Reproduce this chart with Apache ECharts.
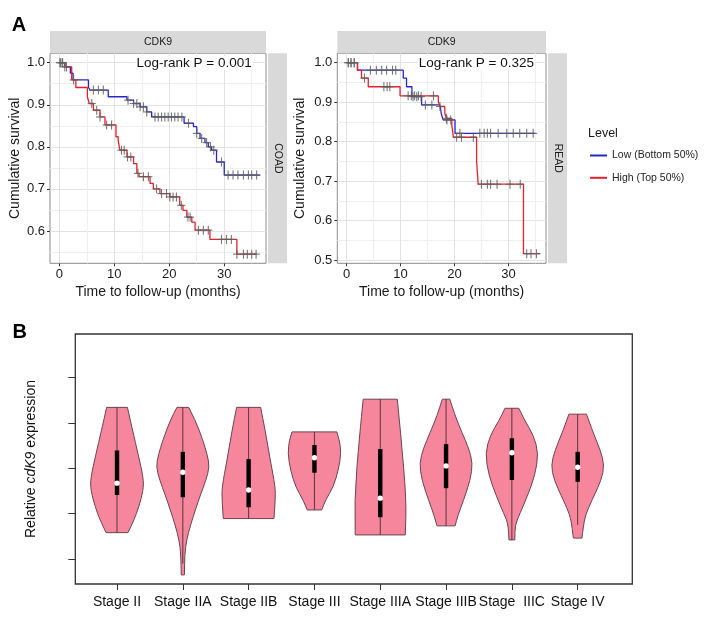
<!DOCTYPE html>
<html>
<head>
<meta charset="utf-8">
<script src="https://cdn.jsdelivr.net/npm/echarts@6/dist/echarts.min.js"></script>
<style>
html, body { margin: 0; padding: 0; background: #fff; }
#main { width: 708px; height: 619px; }
</style>
</head>
<body>
<div id="main"></div>
<script>
'use strict';

// ---- panel A: Kaplan-Meier steps, [months, survival after the step] ----
var coadLow = [[0, 1], [1.0, 0.99], [2.0, 0.975], [2.5, 0.959], [5.3, 0.941], [5.6, 0.935], [8.9, 0.919],
    [12.3, 0.911], [13.5, 0.903], [14.7, 0.895], [15.9, 0.883], [16.8, 0.871], [22.7, 0.856], [24.4, 0.848],
    [25.0, 0.832], [25.6, 0.82], [26.5, 0.81], [27.1, 0.80], [27.7, 0.792], [28.6, 0.764], [30.0, 0.733]];
var coadLowEnd = 36.5;
var coadHigh = [[0, 1], [1.0, 0.99], [2.25, 0.959], [3.0, 0.941], [5.1, 0.919], [5.45, 0.903], [6.2, 0.887],
    [7.4, 0.871], [8.3, 0.852], [10.3, 0.824], [10.7, 0.816], [11.0, 0.792], [12.3, 0.776], [13.5, 0.76],
    [14.1, 0.737], [14.5, 0.729], [16.5, 0.713], [17.1, 0.70], [18.3, 0.689], [20.1, 0.681], [21.9, 0.661],
    [22.5, 0.649], [23.2, 0.633], [24.1, 0.621], [24.7, 0.602], [27.4, 0.58], [32.3, 0.545]];
var coadHighEnd = 35.9;
var readLow = [[0, 1], [2.0, 0.981], [10.5, 0.961], [11.1, 0.939], [12.1, 0.914], [13.9, 0.893],
    [17.3, 0.889], [17.6, 0.868], [17.9, 0.855], [20.1, 0.821]];
var readLowEnd = 35.0;
var readHigh = [[0, 1], [2.0, 0.981], [2.75, 0.961], [4.0, 0.939], [9.9, 0.916], [17.0, 0.901], [17.3, 0.889],
    [18.2, 0.872], [18.5, 0.859], [19.5, 0.842], [19.8, 0.811], [24.1, 0.751], [24.4, 0.692], [32.8, 0.516]];
var readHighEnd = 35.9;

// censoring times (months)
var coadLowCens = [0.1, 0.5, 1.0, 6.2, 7.1, 8.0, 12.5, 13.5, 14.1, 14.7, 15.3, 15.9, 17.4, 18.0, 18.6, 19.2,
    19.8, 20.4, 21.0, 21.6, 22.3, 23.5, 25.0, 25.9, 26.8, 27.5, 28.1, 29.5, 30.7, 31.6, 32.5, 33.5, 34.4, 35.0, 35.9];
var coadHighCens = [0.2, 0.6, 1.3, 2.6, 5.9, 6.8, 7.4, 8.6, 9.5, 11.3, 11.8, 12.4, 13.0, 14.3, 15.3, 16.2,
    17.7, 18.6, 19.5, 20.1, 20.7, 21.3, 22.2, 23.4, 23.8, 25.3, 26.2, 27.1, 29.5, 30.4, 31.3, 32.3,
    33.5, 34.2, 35.0, 35.8];
var readLowCens = [0.3, 0.8, 1.4, 4.4, 5.5, 6.5, 7.4, 8.5, 9.1, 12.3, 13.0, 13.8, 14.6, 15.8, 17.3, 18.6, 19.3,
    21.0, 24.7, 25.5, 26.1, 26.7, 28.1, 29.7, 30.9, 32.1, 33.4, 34.6];
var readHighCens = [0.3, 0.8, 1.4, 3.3, 6.9, 7.5, 8.0, 11.4, 12.0, 12.6, 13.3, 16.1, 18.5, 20.4, 21.3, 23.5,
    25.0, 26.1, 26.7, 27.9, 30.3, 32.2, 33.4, 34.2, 35.2];

var timeTicks = [0, 10, 20, 30];
var timeMinor = [5, 15, 25, 35];
var coadTicks = [0.6, 0.7, 0.8, 0.9, 1.0];
var coadMinor = [0.55, 0.65, 0.75, 0.85, 0.95];
var readTicks = [0.5, 0.6, 0.7, 0.8, 0.9, 1.0];
var readMinor = [0.55, 0.65, 0.75, 0.85, 0.95];

// ---- panel B: violins ----
var stages = ['Stage II', 'Stage IIA', 'Stage IIB', 'Stage III', 'Stage IIIA', 'Stage IIIB', 'Stage  IIIC', 'Stage IV'];
// outline, top to bottom: [expression, relative density]
var vII = [[4.34, 0.39], [3.84, 0.58], [3.29, 0.80], [2.78, 0.99], [2.52, 0.99], [2.15, 0.82], [1.86, 0.64], [1.58, 0.41]];
var vIIA = [[4.34, 0.22], [4.06, 0.47], [3.62, 0.75], [3.29, 0.92], [3.03, 1.0], [2.74, 0.87], [2.41, 0.66],
    [2.08, 0.47], [1.75, 0.29], [1.42, 0.14], [1.09, 0.07], [0.65, 0.06]];
var vIIB = [[4.34, 0.45], [3.84, 0.62], [3.18, 0.81], [2.59, 1.0], [2.30, 1.0], [1.89, 0.95]];
var vIII = [[3.80, 0.84], [3.62, 0.94], [3.33, 1.0], [2.96, 0.90], [2.59, 0.71], [2.30, 0.42], [2.08, 0.27]];
var vIIIA = [[4.52, 0.64], [3.75, 0.77], [2.30, 0.98], [1.53, 0.94]];
var vIIIB = [[4.52, 0.14], [4.17, 0.33], [3.78, 0.60], [3.44, 0.85], [3.11, 1.0], [2.74, 0.91], [2.30, 0.66],
    [1.97, 0.45], [1.73, 0.34]];
var vIIIC = [[4.32, 0.26], [4.06, 0.47], [3.73, 0.81], [3.33, 1.0], [2.85, 0.87], [2.41, 0.60], [2.01, 0.31],
    [1.75, 0.12], [1.42, 0.11]];
var vIV = [[4.19, 0.33], [3.84, 0.54], [3.40, 0.85], [3.07, 1.0], [2.74, 0.89], [2.30, 0.54], [1.97, 0.29],
    [1.70, 0.21], [1.46, 0.16]];
var violinShapes = [vII, vIIA, vIIB, vIII, vIIIA, vIIIB, vIIIC, vIV];

var boxQ1 = [2.41, 2.36, 2.14, 2.90, 1.92, 2.56, 2.74, 2.70];
var boxQ3 = [3.39, 3.36, 3.20, 3.51, 3.42, 3.53, 3.66, 3.36];
var medians = [2.67, 2.91, 2.52, 3.23, 2.34, 3.05, 3.34, 3.02];
var whiskLo = [1.58, 0.90, 1.89, 2.08, 1.53, 1.73, 1.42, 1.75];
var whiskHi = [4.34, 4.34, 4.34, 3.80, 4.52, 4.52, 4.32, 4.19];
var exprTicks = [1, 2, 3, 4, 5];

var FONT = 'Liberation Sans, Arial, sans-serif';
var RED = '#E5202A';
var BLUE = '#2626CC';
var VIOLIN_HALF = 0.405;

function survivalAt(steps, t) {
    var s = steps[0][1];
    for (var i = 0; i < steps.length; i++) {
        if (steps[i][0] <= t) { s = steps[i][1]; }
    }
    return s;
}

function kmLine(name, steps, end, color, ax) {
    return {
        type: 'line', name: name, step: 'end', xAxisIndex: ax, yAxisIndex: ax,
        data: steps.concat([[end, steps[steps.length - 1][1]]]),
        symbol: 'none', z: 3,
        lineStyle: { color: color, width: 1.3 },
        itemStyle: { color: color }
    };
}

function censorMarks(steps, times, ax) {
    return {
        type: 'custom', name: 'censor', xAxisIndex: ax, yAxisIndex: ax, z: 4,
        data: times.map(function (t) { return [t, survivalAt(steps, t)]; }),
        renderItem: function (params, api) {
            var p = api.coord([api.value(0), api.value(1)]);
            var st = { stroke: 'rgba(95,95,95,0.85)', lineWidth: 1.1 };
            return {
                type: 'group', children: [
                    { type: 'line', shape: { x1: p[0] - 4, y1: p[1], x2: p[0] + 4, y2: p[1] }, style: st },
                    { type: 'line', shape: { x1: p[0], y1: p[1] - 4.5, x2: p[0], y2: p[1] + 4.5 }, style: st }
                ]
            };
        }
    };
}

function kmX(grid, min, max) {
    return {
        type: 'value', gridIndex: grid, min: min, max: max,
        axisLine: { show: false, onZero: false },
        axisTick: { show: true, length: 3, lineStyle: { color: '#333' }, customValues: timeTicks },
        axisLabel: { customValues: timeTicks, fontSize: 13, color: '#1a1a1a', fontFamily: FONT, margin: 5 },
        splitLine: { show: true, lineStyle: { color: '#E2E2E2', width: 1 } },
        name: 'Time to follow-up (months)', nameLocation: 'middle', nameGap: 22,
        nameTextStyle: { fontSize: 14, color: '#1a1a1a', fontFamily: FONT }
    };
}
function kmY(grid, min, max, ticks, gap) {
    return {
        type: 'value', gridIndex: grid, min: min, max: max,
        axisLine: { show: false, onZero: false },
        axisTick: { show: true, length: 3, lineStyle: { color: '#333' }, customValues: ticks },
        axisLabel: {
            customValues: ticks, fontSize: 13, color: '#1a1a1a', fontFamily: FONT, margin: 5,
            formatter: function (v) { return v.toFixed(1); }
        },
        splitLine: { show: true, lineStyle: { color: '#E2E2E2', width: 1 } },
        name: 'Cumulative survival', nameLocation: 'middle', nameGap: gap,
        nameTextStyle: { fontSize: 14, color: '#1a1a1a', fontFamily: FONT }
    };
}
function minorAxis(grid, min, max, values) {
    return {
        type: 'value', gridIndex: grid, min: min, max: max,
        axisLine: { show: false, onZero: false },
        axisTick: { show: false, customValues: values },
        axisLabel: { show: false, customValues: values },
        splitLine: { show: true, lineStyle: { color: '#EFEFEF', width: 1 } }
    };
}

function sidePath(pts) {
    var s = '';
    for (var k = 1; k < pts.length - 1; k++) {
        var mx = (pts[k][0] + pts[k + 1][0]) / 2, my = (pts[k][1] + pts[k + 1][1]) / 2;
        s += ' Q ' + pts[k][0] + ' ' + pts[k][1] + ' ' + mx + ' ' + my;
    }
    var last = pts[pts.length - 1];
    return s + ' L ' + last[0] + ' ' + last[1];
}

var violinSeries = {
    type: 'custom', name: 'violin', xAxisIndex: 4, yAxisIndex: 4, z: 3,
    data: stages.map(function (s, i) { return [i, medians[i]]; }),
    encode: { x: 0, y: 1 },
    renderItem: function (params, api) {
        var i = params.dataIndex;
        var cx = api.value(0);
        var prof = violinShapes[i];
        var right = prof.map(function (p) { return api.coord([cx + p[1] * VIOLIN_HALF, p[0]]); });
        var left = prof.map(function (p) { return api.coord([cx - p[1] * VIOLIN_HALF, p[0]]); }).reverse();
        var d = 'M ' + right[0][0] + ' ' + right[0][1] + sidePath(right) +
            ' L ' + left[0][0] + ' ' + left[0][1] + sidePath(left) + ' Z';
        var top = api.coord([cx, whiskHi[i]]);
        var bot = api.coord([cx, whiskLo[i]]);
        var q3 = api.coord([cx, boxQ3[i]]);
        var q1 = api.coord([cx, boxQ1[i]]);
        var md = api.coord([cx, medians[i]]);
        return {
            type: 'group', children: [
                { type: 'path', shape: { pathData: d }, style: { fill: '#F6869B', stroke: '#6A4450', lineWidth: 1 } },
                { type: 'line', shape: { x1: top[0], y1: top[1], x2: bot[0], y2: bot[1] },
                    style: { stroke: '#5A3440', lineWidth: 1 } },
                { type: 'rect', shape: { x: q3[0] - 2.2, y: q3[1], width: 4.4, height: q1[1] - q3[1] },
                    style: { fill: '#000' } },
                { type: 'circle', shape: { cx: md[0], cy: md[1], r: 2.7 }, style: { fill: '#fff' } }
            ]
        };
    }
};

var gridBase = { show: true, backgroundColor: '#fff', borderColor: '#8A8A8A', borderWidth: 1, outerBoundsMode: 'none' };

function noteText(x, text) {
    return {
        type: 'text', x: x, y: 63, z: 100,
        style: {
            text: text, font: '13.5px ' + FONT, fill: '#111', align: 'right', verticalAlign: 'middle',
            backgroundColor: '#fff', padding: [0, 1]
        }
    };
}

var option = {
    animation: false,
    backgroundColor: '#fff',
    grid: [
        Object.assign({ left: 50, top: 53.3, width: 216, height: 210 }, gridBase),
        Object.assign({ left: 337.3, top: 53.3, width: 208.7, height: 210 }, gridBase),
        { show: true, left: 75.3, top: 334, width: 557, height: 250, borderColor: '#333', borderWidth: 1.3,
            backgroundColor: '#fff', outerBoundsMode: 'none' }
    ],
    xAxis: [
        kmX(0, -1.7, 37.6),
        minorAxis(0, -1.7, 37.6, timeMinor),
        kmX(1, -1.744, 36.98),
        minorAxis(1, -1.744, 36.98, timeMinor),
        {
            type: 'value', gridIndex: 2, min: -0.634, max: 7.83,
            axisLine: { show: false, onZero: false },
            axisTick: { show: true, length: 6, lineStyle: { color: '#333' }, customValues: [0, 1, 2, 3, 4, 5, 6, 7] },
            axisLabel: {
                customValues: [0, 1, 2, 3, 4, 5, 6, 7], fontSize: 14, color: '#111', fontFamily: FONT, margin: 11,
                formatter: function (v) { return stages[Math.round(v)]; }
            },
            splitLine: { show: false }
        }
    ],
    yAxis: [
        kmY(0, 0.5232, 1.0223, coadTicks, 28),
        minorAxis(0, 0.5232, 1.0223, coadMinor),
        kmY(1, 0.4916, 1.0238, readTicks, 30),
        minorAxis(1, 0.4916, 1.0238, readMinor),
        {
            type: 'value', gridIndex: 2, min: 0.449, max: 5.956,
            axisLine: { show: false, onZero: false },
            axisTick: { show: true, length: 7, lineStyle: { color: '#333' }, customValues: exprTicks },
            axisLabel: { show: false, customValues: exprTicks },
            splitLine: { show: false },
            name: '{a|Relative }{b|cdK9}{a| expression}', nameLocation: 'middle', nameGap: 37,
            nameTextStyle: {
                rich: {
                    a: { fontSize: 14, color: '#111', fontFamily: FONT },
                    b: { fontSize: 14, color: '#111', fontFamily: FONT, fontStyle: 'italic' }
                }
            }
        }
    ],
    legend: {
        data: ['Low (Bottom 50%)', 'High (Top 50%)'],
        orient: 'vertical', left: 590, top: 148.5, itemGap: 8.3, padding: 0,
        icon: 'rect', itemWidth: 17, itemHeight: 2,
        textStyle: { fontSize: 10.5, color: '#222', fontFamily: FONT, lineHeight: 14 },
        selectedMode: false
    },
    graphic: [
        { type: 'text', x: 19, y: 25.5, style: { text: 'A', font: 'bold 20px ' + FONT, fill: '#000', align: 'center', verticalAlign: 'middle' } },
        { type: 'text', x: 19.7, y: 332.5, style: { text: 'B', font: 'bold 20px ' + FONT, fill: '#000', align: 'center', verticalAlign: 'middle' } },
        // strips
        { type: 'rect', shape: { x: 50, y: 31, width: 216, height: 22.3 }, style: { fill: '#D9D9D9' } },
        { type: 'rect', shape: { x: 337.3, y: 31, width: 208.7, height: 22.3 }, style: { fill: '#D9D9D9' } },
        { type: 'rect', shape: { x: 268, y: 53.3, width: 19, height: 210 }, style: { fill: '#D9D9D9' } },
        { type: 'rect', shape: { x: 548, y: 53.3, width: 19, height: 210 }, style: { fill: '#D9D9D9' } },
        { type: 'text', x: 158, y: 42.4, style: { text: 'CDK9', font: '10.5px ' + FONT, fill: '#1a1a1a', align: 'center', verticalAlign: 'middle' } },
        { type: 'text', x: 441.7, y: 42.4, style: { text: 'CDK9', font: '10.5px ' + FONT, fill: '#1a1a1a', align: 'center', verticalAlign: 'middle' } },
        { type: 'text', x: 277.5, y: 158.3, rotation: -Math.PI / 2, style: { text: 'COAD', font: '10.5px ' + FONT, fill: '#1a1a1a', align: 'center', verticalAlign: 'middle' } },
        { type: 'text', x: 557.5, y: 158.3, rotation: -Math.PI / 2, style: { text: 'READ', font: '10.5px ' + FONT, fill: '#1a1a1a', align: 'center', verticalAlign: 'middle' } },
        noteText(252.7, 'Log-rank P = 0.001'),
        noteText(535, 'Log-rank P = 0.325'),
        { type: 'text', x: 588, y: 134, style: { text: 'Level', font: '12.5px ' + FONT, fill: '#1a1a1a', align: 'left', verticalAlign: 'middle' } }
    ],
    series: [
        kmLine('Low (Bottom 50%)', coadLow, coadLowEnd, BLUE, 0),
        kmLine('High (Top 50%)', coadHigh, coadHighEnd, RED, 0),
        kmLine('Low (Bottom 50%)', readLow, readLowEnd, BLUE, 2),
        kmLine('High (Top 50%)', readHigh, readHighEnd, RED, 2),
        censorMarks(coadLow, coadLowCens, 0),
        censorMarks(coadHigh, coadHighCens, 0),
        censorMarks(readLow, readLowCens, 2),
        censorMarks(readHigh, readHighCens, 2),
        violinSeries
    ]
};

var chart = echarts.init(document.getElementById('main'));
chart.setOption(option);
</script>
</body>
</html>
